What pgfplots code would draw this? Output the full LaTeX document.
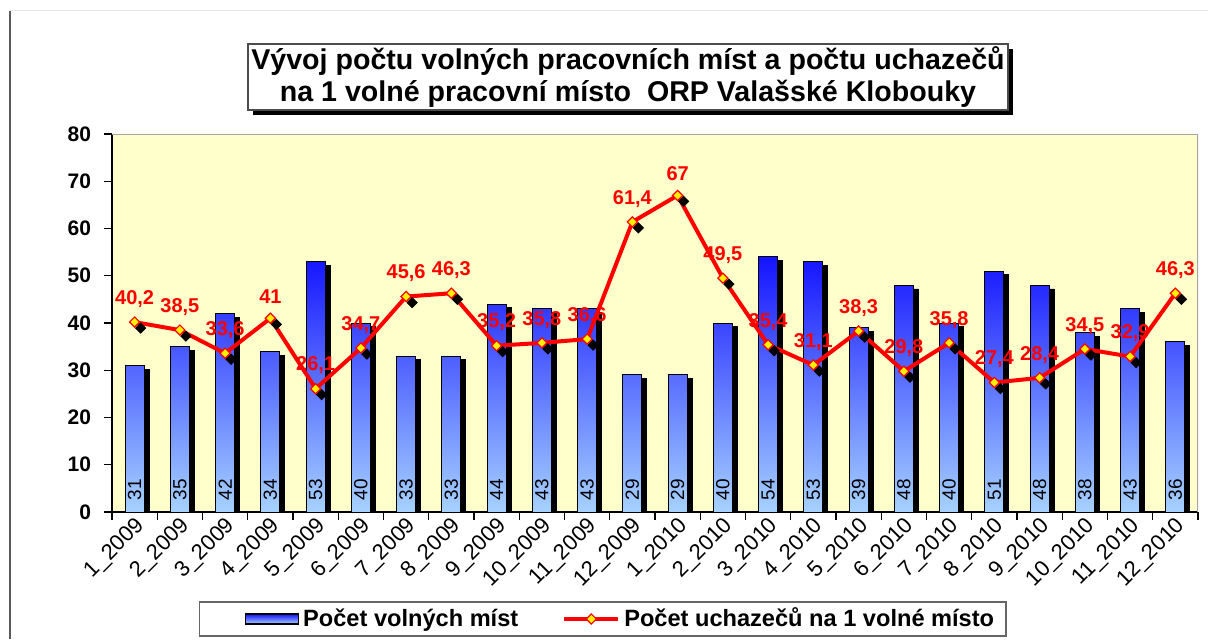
\documentclass[border=0pt]{standalone}
\usepackage{fontspec}
\setmainfont{Liberation Sans}
\usepackage{pgfplots}
\pgfplotsset{compat=1.18}
\usepackage{pgfplotstable}
\definecolor{bgyel}{HTML}{FFFFCC}
\definecolor{bartop}{HTML}{1414FF}
\definecolor{barbot}{HTML}{A6D2FF}

\pgfplotstableread{
x v
0 31
1 35
2 42
3 34
4 53
5 40
6 33
7 33
8 44
9 43
10 43
11 29
12 29
13 40
14 54
15 53
16 39
17 48
18 40
19 51
20 48
21 38
22 43
23 36
}\bars

\pgfplotstableread{
x y lab
0 40.2 40,2
1 38.5 38,5
2 33.6 33,6
3 41 41
4 26.1 26,1
5 34.7 34,7
6 45.6 45,6
7 46.3 46,3
8 35.2 35,2
9 35.8 35,8
10 36.6 36,6
11 61.4 61,4
12 67 67
13 49.5 49,5
14 35.4 35,4
15 31.1 31,1
16 38.3 38,3
17 29.8 29,8
18 35.8 35,8
19 27.4 27,4
20 28.4 28,4
21 34.5 34,5
22 32.9 32,9
23 46.3 46,3
}\ratio

\begin{document}
\begin{tikzpicture}
\path[use as bounding box] (0,0) rectangle (604pt,319.5pt);
\draw[gray!70!black, line width=1pt] (4.75pt,0) -- (4.75pt,314pt);
\draw[gray!20, line width=0.5pt] (5pt,314pt) -- (604pt,314pt);
% title
\node[fill=black, minimum width=380pt, minimum height=33pt, inner sep=0pt] at (316.5pt,278.5pt) {};
\node[fill=white, draw=gray!60!black, line width=0.6pt, minimum width=380pt, minimum height=33pt, inner sep=0pt, align=center, font=\bfseries\fontsize{14.3}{16}\selectfont] at (314pt,281pt) {Vývoj počtu volných pracovních míst a počtu uchazečů\\na 1 volné pracovní místo\ \ ORP Valašské Klobouky};

\begin{axis}[
  at={(56pt,63.5pt)}, anchor=south west, scale only axis,
  width=543pt, height=189pt,
  xmin=-0.5, xmax=23.5, ymin=0, ymax=80,
  axis x line=bottom, axis y line=left,
  axis line style={-, black, line width=0.8pt},
  axis background/.style={fill=bgyel},
  ytick={0,10,...,80},
  yticklabel style={font=\bfseries\fontsize{10.5}{12}\selectfont, xshift=-3pt},
  /pgf/number format/assume math mode=true,
  tick align=outside, major tick length=4pt,
  tick style={black, line width=0.6pt},
  xtick={-0.5,0.5,...,23.5}, xticklabels={},
  extra x ticks={0,1,...,23},
  extra x tick labels={1\_2009,2\_2009,3\_2009,4\_2009,5\_2009,6\_2009,7\_2009,8\_2009,9\_2009,10\_2009,11\_2009,12\_2009,1\_2010,2\_2010,3\_2010,4\_2010,5\_2010,6\_2010,7\_2010,8\_2010,9\_2010,10\_2010,11\_2010,12\_2010},
  extra x tick style={major tick length=0pt, xticklabel style={rotate=45, anchor=east, font=\fontsize{11}{12}\selectfont, xshift=2pt, yshift=-6pt}},
  legend style={at={(0.452,-0.283)}, anchor=center, legend columns=2, draw=black!60, line width=0.8pt, fill=white, font=\bfseries\fontsize{11.8}{13}\selectfont, inner xsep=4pt, inner ysep=1pt, /tikz/every even column/.append style={column sep=20pt}},
]
% bar shadows
\addplot[ybar, bar width=9.5pt, bar shift=2.5pt, fill=black, draw=black, forget plot] table[x=x, y expr=\thisrow{v}-0.8] {\bars};
% bars
\addplot[ybar, bar width=9.5pt, bar shift=0pt, top color=bartop, bottom color=barbot, draw=black, line width=0.5pt,
  legend image code/.code={\path[draw=none, fill=none] (0pt,0pt) -- (19pt,0pt); \draw[top color=bartop, bottom color=barbot, draw=black, line width=0.6pt] (19pt,-2.5pt) rectangle (45.5pt,2.5pt);}] table[x=x, y=v] {\bars};
\addlegendentry{Počet volných míst}
% bar value labels
\addplot[draw=none, forget plot, nodes near coords, point meta=explicit symbolic,
  every node near coord/.append style={rotate=90, anchor=center, font=\fontsize{9.5}{10}\selectfont, text=black, inner sep=0pt}] table[x=x, y expr=4.66, meta=v] {\bars};
% marker shadows
\addplot[only marks, forget plot, mark=square*, mark size=1.8pt, mark options={xshift=3pt, yshift=-3pt, rotate=45, fill=black, draw=black}] table[x=x, y=y] {\ratio};
% line
\addplot[red, line width=2pt, mark=square*, mark size=1.8pt, mark options={rotate=45, fill=yellow, draw=red, line width=0.6pt},
  nodes near coords, point meta=explicit symbolic,
  every node near coord/.append style={font=\bfseries\fontsize{10}{12}\selectfont, text=red, anchor=south, inner sep=0pt, yshift=7pt},
  legend image code/.code={\draw[red, line width=2pt] (0pt,0pt) -- (27pt,0pt); \path[mark=square*, mark size=1.8pt, mark options={rotate=45, fill=yellow, draw=red, line width=0.6pt}] plot coordinates {(13.5pt,0pt)};}
  ] table[x=x, y=y, meta=lab] {\ratio};
\addlegendentry{Počet uchazečů na 1 volné místo}
\draw[gray!70, line width=0.8pt] (rel axis cs:0,1) -- (rel axis cs:1,1) -- (rel axis cs:1,0);
\end{axis}
\end{tikzpicture}
\end{document}
